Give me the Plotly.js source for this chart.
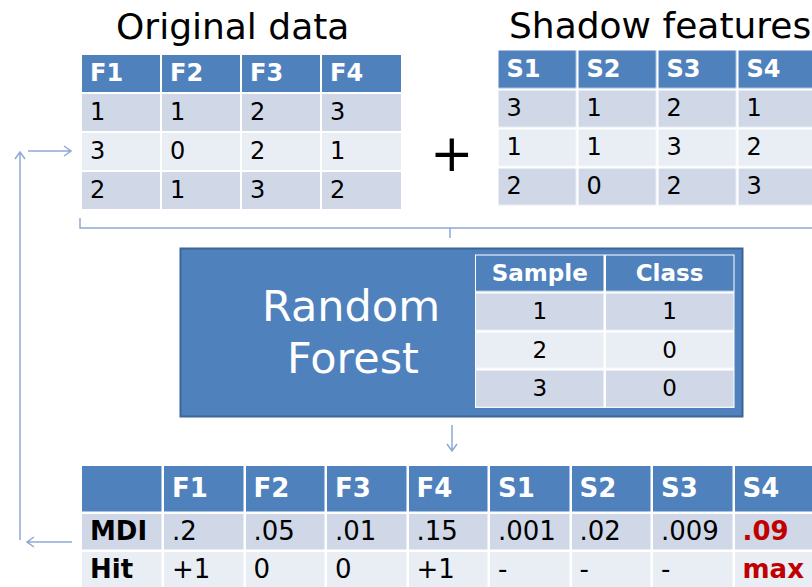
<!DOCTYPE html>
<html>
<head>
<meta charset="utf-8">
<script src="https://cdn.plot.ly/plotly-3.0.1.min.js"></script>
<style>
  html, body { margin: 0; padding: 0; background: #fff; }
  #chart { width: 812px; height: 587px; }
</style>
</head>
<body>
<div id="chart"></div>
<script>
// values
const origCols = ['F1', 'F2', 'F3', 'F4'];
const origRows = [['1', '1', '2', '3'], ['3', '0', '2', '1'], ['2', '1', '3', '2']];
const shadowCols = ['S1', 'S2', 'S3', 'S4'];
const shadowRows = [['3', '1', '2', '1'], ['1', '1', '3', '2'], ['2', '0', '2', '3']];
const rfCols = ['Sample', 'Class'];
const rfSample = ['1', '2', '3'];
const rfClass = ['1', '0', '0'];
const impCols = ['', 'F1', 'F2', 'F3', 'F4', 'S1', 'S2', 'S3', 'S4'];
const mdiVals = ['.2', '.05', '.01', '.15', '.001', '.02', '.009', '.09'];
const hitVals = ['+1', '0', '0', '+1', '-', '-', '-', 'max'];
const maxShadow = 'S4';  // best shadow feature, drawn in red

const BLUE = '#4F81BD', ROW1 = '#D0D8E8', ROW2 = '#E9EDF4';
const LINE = '#8EA9D6', RED = '#C00000';
const FONT = 'DejaVu Sans, Verdana, sans-serif';

// one table = heatmap for the cells + two text traces (header, body)
function table(o) {
  const xe = [o.left];
  o.widths.forEach(w => xe.push(xe[xe.length - 1] + w));
  const ye = [o.top, o.top + o.headH];
  o.rows.forEach(() => ye.push(ye[ye.length - 1] + o.rowH));
  const z = [o.header.map(() => 0)].concat(o.rows.map((r, i) => r.map(() => (i % 2 ? 2 : 1))));

  const heat = {
    type: 'heatmap', x: xe, y: ye, z: z, zmin: 0, zmax: 2,
    colorscale: [[0, BLUE], [0.5, ROW1], [1, ROW2]],
    showscale: false, xgap: o.gap, ygap: o.gap, hoverinfo: 'skip'
  };

  const left = o.align === 'left';
  const tx = j => left ? xe[j] + 9 : (xe[j] + xe[j + 1]) / 2;
  const ty = i => (ye[i] + ye[i + 1]) / 2 + 1.5;  // text sits a bit low in the cells
  const pos = left ? 'middle right' : 'middle center';

  const head = {
    type: 'scatter', mode: 'text', hoverinfo: 'skip', textposition: pos,
    x: o.header.map((h, j) => tx(j)), y: o.header.map(() => ty(0)),
    text: o.header.map(h => '<b>' + h + '</b>'),
    textfont: { family: FONT, size: o.size, color: '#fff' }
  };

  const bx = [], by = [], bt = [], bc = [];
  o.rows.forEach((r, i) => r.forEach((v, j) => {
    const hot = o.hot ? o.hot(j) : false;
    const bold = hot || (o.boldFirst && j === 0);
    bx.push(tx(j));
    by.push(ty(i + 1));
    bt.push(bold ? '<b>' + v + '</b>' : v);
    bc.push(hot ? RED : '#000');
  }));
  const body = {
    type: 'scatter', mode: 'text', hoverinfo: 'skip', textposition: pos,
    x: bx, y: by, text: bt,
    textfont: { family: FONT, size: o.size, color: bc }
  };
  return [heat, head, body];
}

const traces = [].concat(
  table({ left: 81, top: 54, widths: [80, 80, 80, 81], headH: 38.5, rowH: 39, gap: 2,
          header: origCols, rows: origRows, size: 24, align: 'left' }),
  table({ left: 497.5, top: 49.5, widths: [80, 80, 80, 80], headH: 39.5, rowH: 39, gap: 2.5,
          header: shadowCols, rows: shadowRows, size: 24, align: 'left' }),
  table({ left: 475, top: 254.5, widths: [129.5, 130], headH: 38, rowH: 38.5, gap: 2.5,
          header: rfCols, rows: rfSample.map((s, i) => [s, rfClass[i]]), size: 23, align: 'center' }),
  table({ left: 81, top: 465, widths: [82, 81.5, 81.5, 81.5, 81.5, 81.5, 81.5, 81.5, 81.5], headH: 48, rowH: 38, gap: 2.5,
          header: impCols, rows: [['MDI'].concat(mdiVals), ['Hit'].concat(hitVals)], size: 26, align: 'left',
          boldFirst: true, hot: j => impCols[j] === maxShadow })
);

const arrow = { type: 'path', xref: 'x', yref: 'y', line: { color: LINE, width: 1.5 } };
const shapes = [
  // Random Forest box and the white backing behind its small table
  { type: 'rect', xref: 'x', yref: 'y', x0: 180.5, x1: 742.5, y0: 248.5, y1: 416.5,
    fillcolor: BLUE, line: { color: '#3C6495', width: 2 }, layer: 'below' },
  { type: 'rect', xref: 'x', yref: 'y', x0: 475, x1: 734.5, y0: 254.5, y1: 408,
    fillcolor: '#fff', line: { width: 0 }, layer: 'below' },
  // bracket joining both data tables
  Object.assign({ path: 'M80,218 L80,228 L812,228 M450,228 L450,238' }, arrow),
  // arrow down to the importance table
  Object.assign({ path: 'M452,425 L452,451 M447,444 L452,451 L457,444' }, arrow),
  // loop back on the left
  Object.assign({ path: 'M72,542 L27,542 M34,537 L27,542 L34,547' }, arrow),
  Object.assign({ path: 'M20,540 L20,152 M15,159 L20,152 L25,159' }, arrow),
  Object.assign({ path: 'M28,151 L71,151 M64,146 L71,151 L64,156' }, arrow)
];

const ann = (text, x, y, size, color, xanchor) => ({
  text: text, x: x, y: y, xref: 'x', yref: 'y', showarrow: false,
  xanchor: xanchor || 'center', yanchor: 'middle',
  font: { family: FONT, size: size, color: color || '#000' }
});

const layout = {
  width: 812, height: 587,
  margin: { l: 0, r: 0, t: 0, b: 0 },
  paper_bgcolor: '#fff', plot_bgcolor: '#fff',
  showlegend: false, hovermode: false,
  xaxis: { range: [0, 812], visible: false, fixedrange: true },
  yaxis: { range: [587, 0], visible: false, fixedrange: true },
  shapes: shapes,
  annotations: [
    ann('Original data', 232.5, 26.5, 36),
    ann('Shadow features', 507, 25, 36, '#000', 'left'),
    ann('+', 452, 153, 52),
    ann('Random', 350.5, 305.5, 43, '#fff'),
    ann('Forest', 352.5, 357.5, 43, '#fff')
  ]
};

Plotly.newPlot('chart', traces, layout, { staticPlot: true });
</script>
</body>
</html>
